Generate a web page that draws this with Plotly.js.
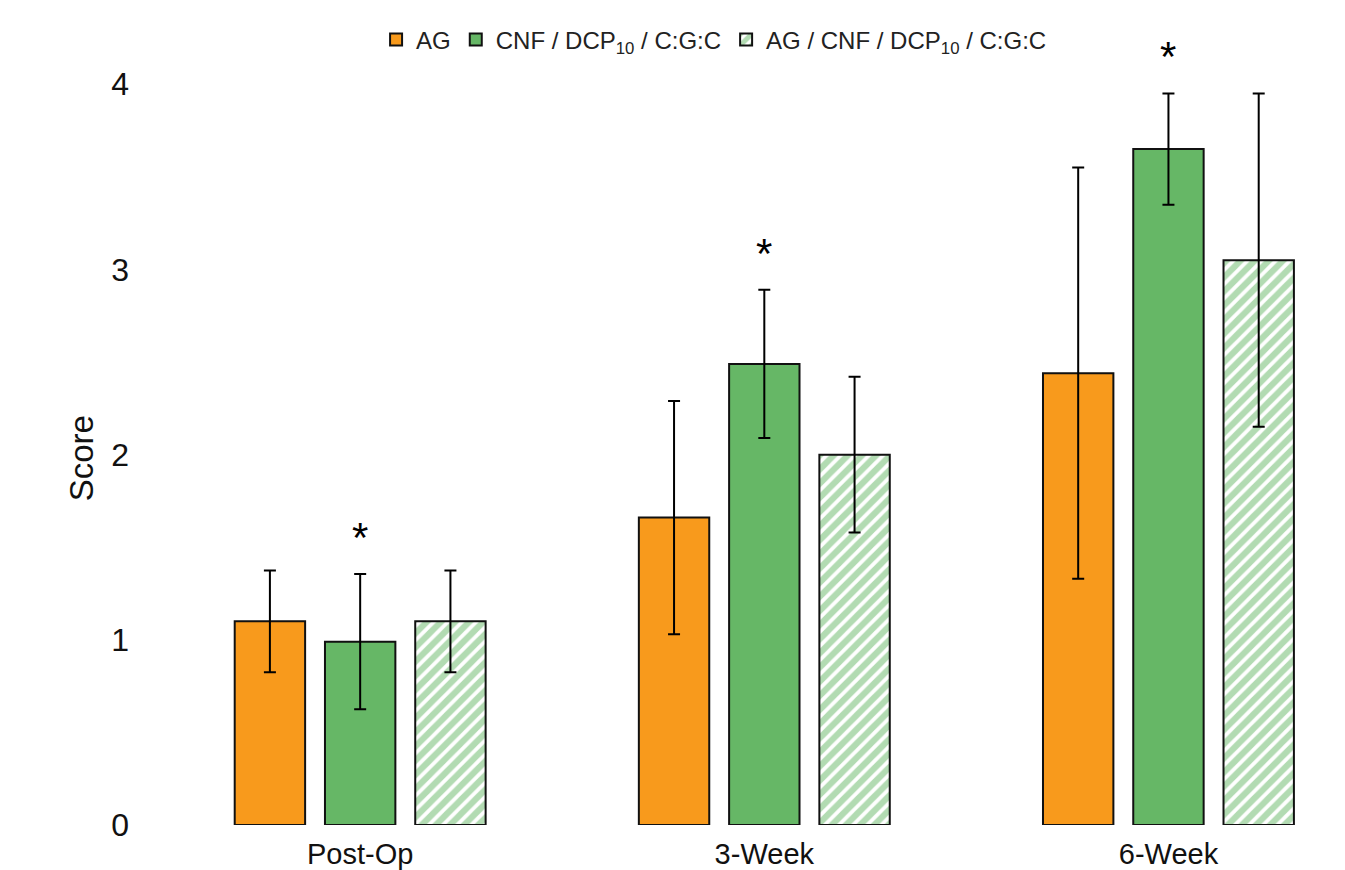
<!DOCTYPE html>
<html>
<head>
<meta charset="utf-8">
<script src="https://cdn.plot.ly/plotly-3.0.1.min.js"></script>
<style>html,body{margin:0;padding:0;background:#fff;}#chart{width:1345px;height:870px;}</style>
</head>
<body>
<div id="chart"></div>
<script>
const categories = ["Post-Op", "3-Week", "6-Week"];
const seriesNames = ["AG", "CNF / DCP<sub>10</sub> / C:G:C", "AG / CNF / DCP<sub>10</sub> / C:G:C"];
const agValues = [1.10, 1.66, 2.44];
const agErrors = [0.275, 0.63, 1.11];
const cnfValues = [0.99, 2.49, 3.65];
const cnfErrors = [0.365, 0.40, 0.30];
const comboValues = [1.10, 2.00, 3.05];
const comboErrors = [0.275, 0.42, 0.90];
const significant = [true, true, true]; // asterisks above CNF / DCP10 / C:G:C
const yTitle = "Score";

const orange = "#F89A1C";
const green = "#66B766";
const font = "Liberation Sans, Arial, Helvetica, sans-serif";

function errBar(arr) {
  return {type: "data", array: arr, visible: true, color: "#000", thickness: 2, width: 6};
}
const line = {color: "#111", width: 2};

const traces = [
  {type: "bar", name: seriesNames[0], x: categories, y: agValues, error_y: errBar(agErrors),
   marker: {color: orange, line: line}},
  {type: "bar", name: seriesNames[1], x: categories, y: cnfValues, error_y: errBar(cnfErrors),
   marker: {color: green, line: line}},
  {type: "bar", name: seriesNames[2], x: categories, y: comboValues, error_y: errBar(comboErrors),
   marker: {color: "#fff", line: line,
     pattern: {shape: "/", fgcolor: green, bgcolor: "#fff", size: 10, solidity: 0.62, fillmode: "overlay"}}}
];

const annotations = [];
categories.forEach((c, i) => {
  if (significant[i]) {
    annotations.push({x: c, y: cnfValues[i] + cnfErrors[i] + 0.06, xref: "x", yref: "y",
      text: "*", showarrow: false, yanchor: "bottom",
      font: {family: font, size: 42, color: "#000"}});
  }
});
annotations.push({x: 0, xref: "paper", xshift: -67, y: 1.98, yref: "y", text: yTitle,
  textangle: -90, showarrow: false, xanchor: "center", yanchor: "middle",
  font: {family: font, size: 33, color: "#111"}});

const layout = {
  width: 1345, height: 870,
  margin: {l: 148, r: 25, t: 38, b: 45, autoexpand: false},
  paper_bgcolor: "#fff", plot_bgcolor: "#fff",
  barmode: "group", bargap: 0.33, bargroupgap: 0.22,
  showlegend: true,
  legend: {orientation: "h", x: 0.483, xanchor: "center", y: 0.9975, yanchor: "middle",
    font: {family: font, size: 24, color: "#222"}, itemwidth: 30, traceorder: "normal",
    bgcolor: "rgba(0,0,0,0)"},
  xaxis: {range: [-0.525, 2.375], showgrid: false, zeroline: false, showline: false,
    ticks: "", tickfont: {family: font, size: 29, color: "#111"}, ticklabelstandoff: 9},
  yaxis: {range: [0, 4.25], tickvals: [0, 1, 2, 3, 4], showgrid: false, zeroline: false, showline: false,
    ticks: "", tickfont: {family: font, size: 32, color: "#111"}, ticklabelstandoff: 18},
  annotations: annotations
};

Plotly.newPlot("chart", traces, layout, {displayModeBar: false, staticPlot: true});
</script>
</body>
</html>
